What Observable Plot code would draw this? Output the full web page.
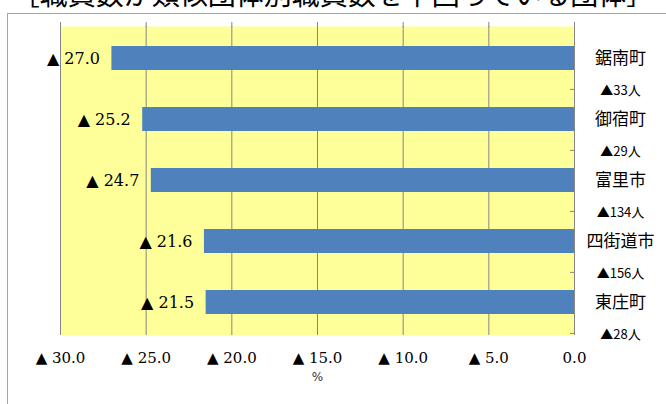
<!DOCTYPE html>
<html lang="ja">
<head>
<meta charset="utf-8">
<script src="https://cdn.jsdelivr.net/npm/d3@7"></script>
<script src="https://cdn.jsdelivr.net/npm/@observablehq/plot@0.6"></script>
<style>
  html, body { margin: 0; padding: 0; background: #fff; overflow: hidden; }
  #wrap { position: relative; width: 666px; height: 404px; overflow: hidden; }
  #title {
    position: absolute; left: 0; top: -21px; width: 666px;
    text-align: center; font: 28px/28px "Noto Sans CJK JP", sans-serif;
    color: #000; white-space: nowrap;
  }
  #box {
    position: absolute; left: 7px; top: 13px; width: 720px; height: 460px;
    border-left: 1px solid #a6a6a6; border-top: 1px solid #a6a6a6;
  }
  #chart { position: absolute; left: 0; top: 0; }
</style>
</head>
<body>
<div id="wrap">
  <div id="title">［職員数が類似団体別職員数を下回っている団体］</div>
  <div id="box"></div>
  <div id="chart"></div>
</div>
<script>
// Municipalities, their staffing gap against similar bodies (%), and the gap in persons
const towns = ["鋸南町", "御宿町", "富里市", "四街道市", "東庄町"];
const rates = [27.0, 25.2, 24.7, 21.6, 21.5];
const staffGaps = [33, 29, 134, 156, 28];
const xTicks = [30, 25, 20, 15, 10, 5, 0];

const rows = towns.map((town, i) => ({town, rate: rates[i], gap: staffGaps[i]}));

// Negative values are written with a leading ▲
const fmt = (v) => (v === 0 ? "0.0" : "▲ " + v.toFixed(1));

const W = 666, H = 404, mTop = 26, mBottom = 69;
const halfStep = (H - mTop - mBottom) / towns.length / 2;

const chart = Plot.plot({
  width: W,
  height: H,
  marginLeft: 60,
  marginRight: 92,
  marginTop: mTop,
  marginBottom: mBottom,
  style: {background: "transparent", fontFamily: "DejaVu Serif", color: "#000"},
  x: {domain: [30, 0], ticks: xTicks},
  y: {domain: towns, paddingInner: 0.6, paddingOuter: 0.3},
  marks: [
    Plot.frame({fill: "#ffff99", stroke: null}),
    Plot.gridX(xTicks, {stroke: "#868686", strokeOpacity: 1}),
    Plot.axisX(xTicks, {anchor: "top", tickSize: 5, tickFormat: () => "", stroke: "#868686", label: null}),
    Plot.axisX(xTicks, {
      anchor: "bottom", tickSize: 0, tickPadding: 17, tickFormat: fmt,
      fontSize: 15, fontFamily: "DejaVu Serif", fill: "#000", label: null
    }),
    Plot.axisY({
      anchor: "right", tickSize: 5, dx: -5, dy: halfStep,
      tickFormat: () => "", stroke: "#868686", label: null
    }),
    Plot.barX(rows, {x: "rate", y: "town", fill: "#4f81bd"}),
    Plot.text(rows, {
      x: "rate", y: "town", text: (d) => fmt(d.rate), textAnchor: "end", dx: -12,
      fontSize: 16, fontFamily: "DejaVu Serif", fill: "#000"
    }),
    // Town names beside each bar, with the gap in persons underneath
    Plot.text(rows, {
      y: "town", frameAnchor: "right", textAnchor: "middle", dx: 46, text: "town",
      fontSize: 17, fontFamily: "Noto Sans CJK JP", fill: "#000"
    }),
    Plot.text(rows, {
      y: "town", frameAnchor: "right", textAnchor: "middle", dx: 46, dy: halfStep + 1,
      text: (d) => "▲" + d.gap + "人",
      fontSize: 13, fontFamily: "Noto Sans CJK JP", fill: "#000"
    }),
    Plot.text(["%"], {frameAnchor: "bottom", dy: 45, fontSize: 12, fontFamily: "DejaVu Sans", fill: "#333"})
  ]
});

document.getElementById("chart").appendChild(chart);
</script>
</body>
</html>
